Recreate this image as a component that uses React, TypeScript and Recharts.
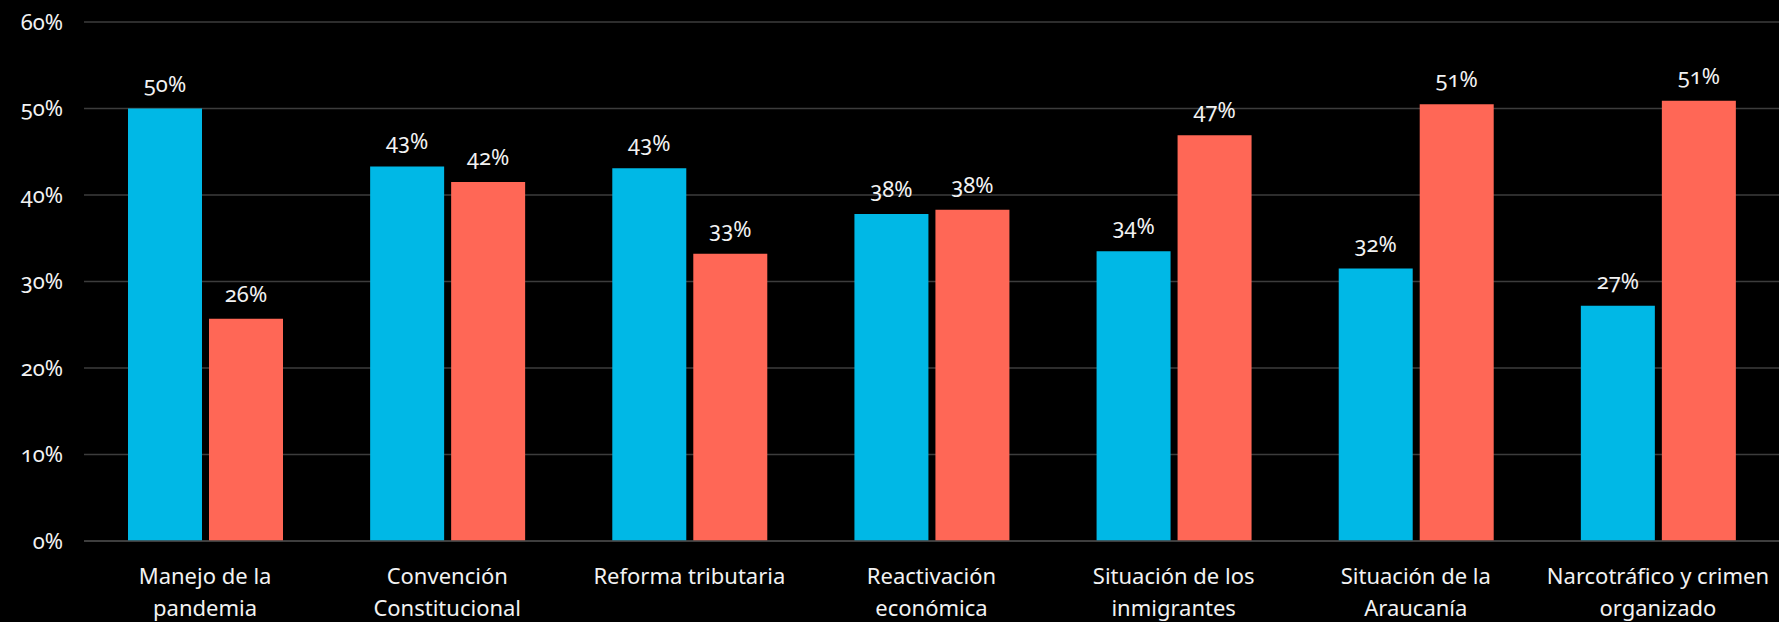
import React from 'react';
import { BarChart, Bar, XAxis, YAxis, CartesianGrid, LabelList } from 'recharts';

const categories = [
  'Manejo de la\npandemia',
  'Convención\nConstitucional',
  'Reforma tributaria',
  'Reactivación\neconómica',
  'Situación de los\ninmigrantes',
  'Situación de la\nAraucanía',
  'Narcotráfico y crimen\norganizado',
];
const seriesBlue = [50.0, 43.3, 43.1, 37.8, 33.5, 31.5, 27.2];
const seriesRed = [25.7, 41.5, 33.2, 38.3, 46.9, 50.5, 50.9];
const yTicks = [0, 10, 20, 30, 40, 50, 60];

const data = categories.map((name, i) => ({ name, blue: seriesBlue[i], red: seriesRed[i] }));

const FONT = '"Noto Sans", "Open Sans", sans-serif';
const textStyle: React.CSSProperties = { fontVariantNumeric: 'oldstyle-nums', fontFamily: FONT };

// two-line category labels
const CategoryTick = (props: any) => {
  const { x, y, payload } = props;
  const lines = String(payload.value).split('\n');
  return (
    <g transform={`translate(${x},${y})`}>
      {lines.map((line, i) => (
        <text key={i} x={0} y={27 + i * 32} dy="0.35em" textAnchor="middle" fill="#f2f2f2" fontSize={22} style={textStyle}>
          {line}
        </text>
      ))}
    </g>
  );
};

const pct = (v: any) => `${Math.round(Number(v))}%`;

const App: React.FC = () => {
  return (
    <div style={{ width: 1779, height: 622, background: '#000' }}>
      <style>{'body{margin:0;background:#000}'}</style>
      <BarChart
        width={1779}
        height={622}
        data={data}
        margin={{ top: 22, right: 0, bottom: 0, left: 0 }}
        barCategoryGap={44}
        barGap={7}
      >
        <CartesianGrid vertical={false} stroke="#3c3c3c" strokeWidth={1.5} />
        <XAxis
          dataKey="name"
          height={81}
          tick={<CategoryTick />}
          tickLine={false}
          axisLine={{ stroke: '#444', strokeWidth: 1.5 }}
          interval={0}
        />
        <YAxis
          width={84}
          domain={[0, 60]}
          ticks={yTicks}
          tickFormatter={(v) => `${v}%`}
          tickLine={false}
          axisLine={false}
          tickMargin={15}
          tick={{ fill: '#f2f2f2', fontSize: 22, style: textStyle } as any}
        />
        <Bar dataKey="blue" fill="#00B8E6" isAnimationActive={false}>
          <LabelList dataKey="blue" position="top" offset={17} formatter={pct} fill="#f2f2f2" fontSize={22} style={textStyle} />
        </Bar>
        <Bar dataKey="red" fill="#FF6756" isAnimationActive={false}>
          <LabelList dataKey="red" position="top" offset={17} formatter={pct} fill="#f2f2f2" fontSize={22} style={textStyle} />
        </Bar>
      </BarChart>
    </div>
  );
};

export default App;
